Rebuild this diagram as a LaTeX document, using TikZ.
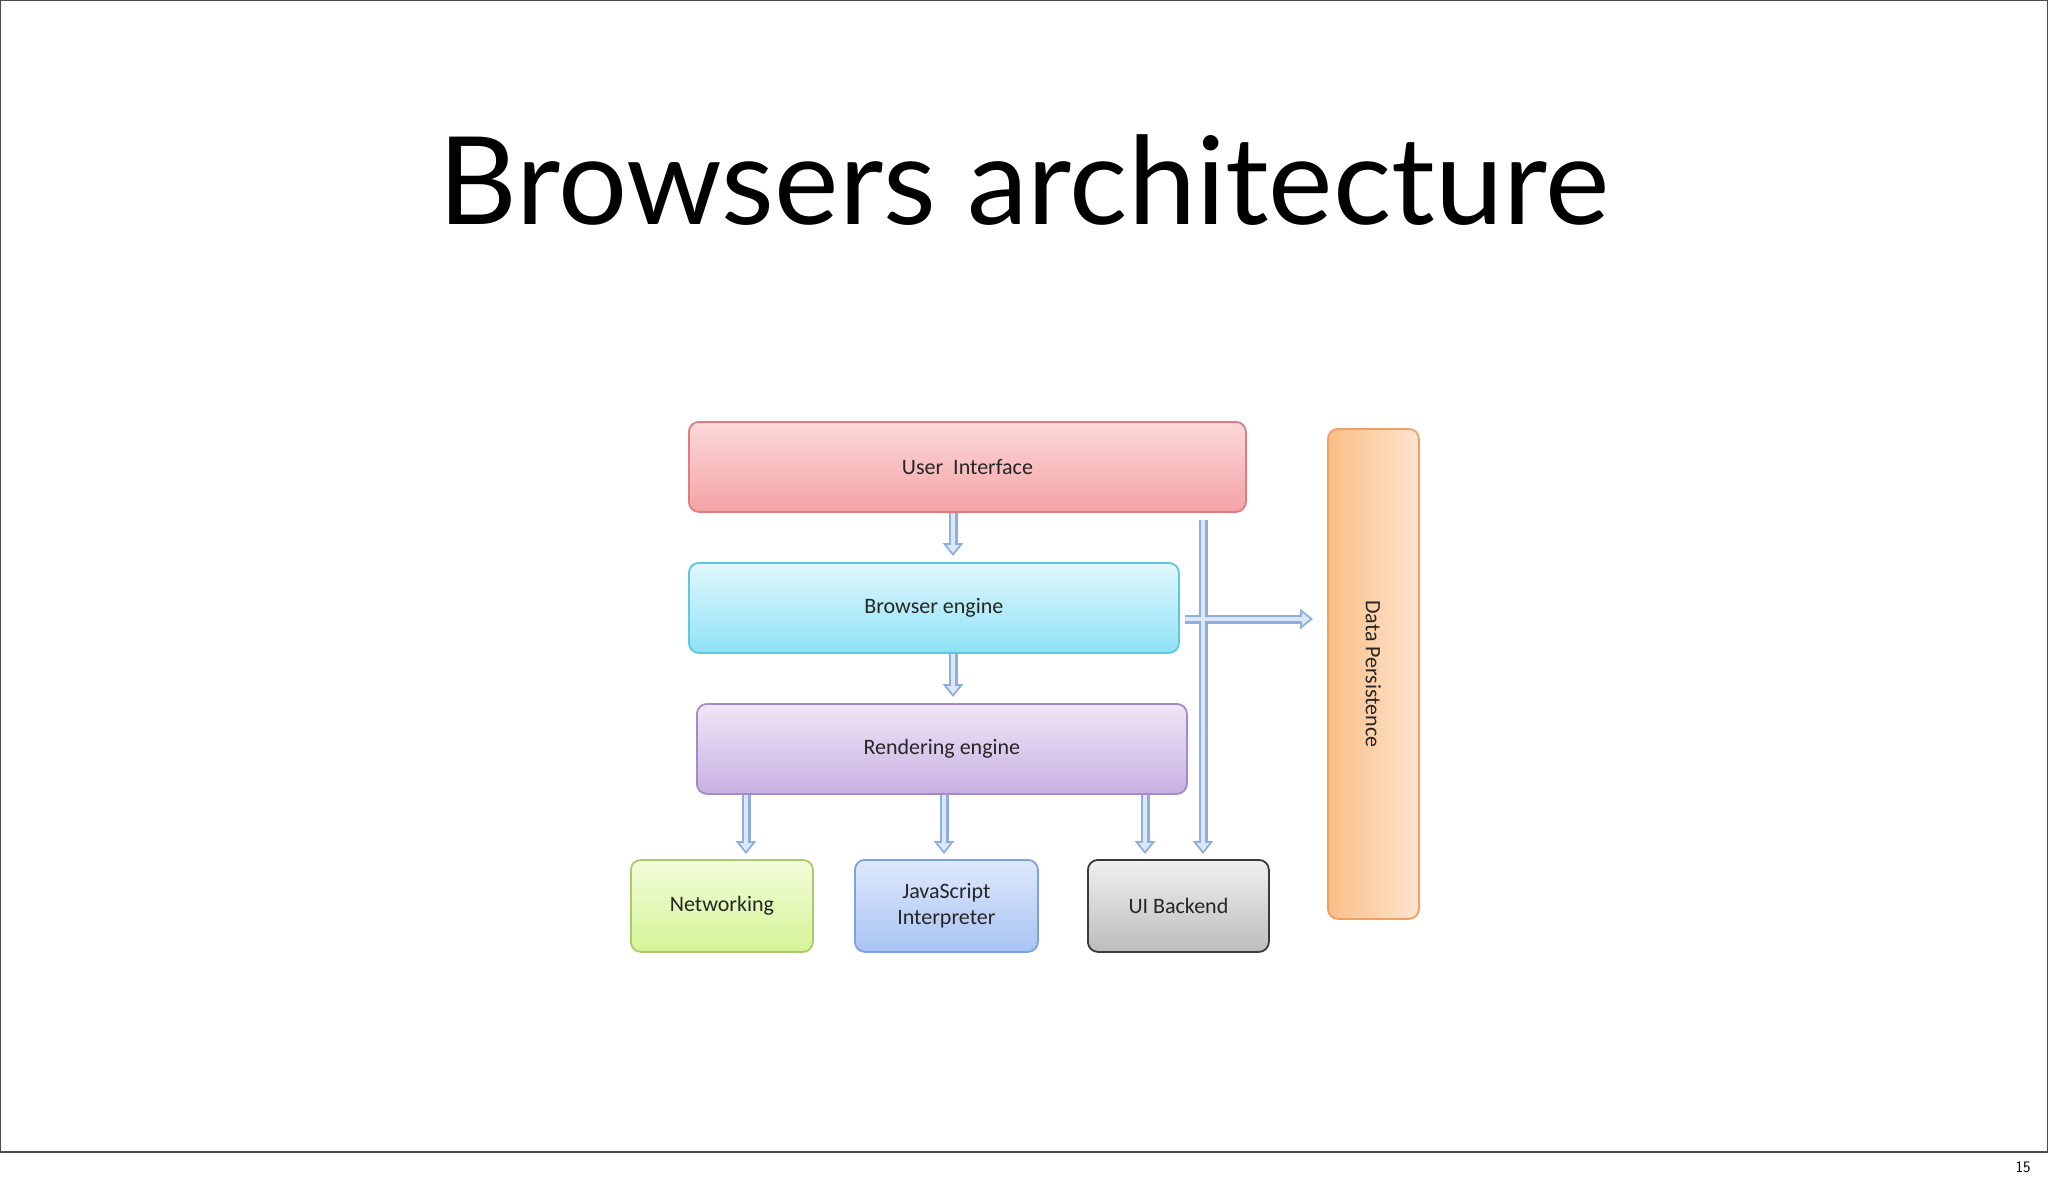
\documentclass[tikz,border=0pt]{standalone}
\usepackage{fontspec}
\setmainfont{Carlito}
\newfontfamily\titlefont{Lato}
\usetikzlibrary{arrows.meta}
\definecolor{uiT}{HTML}{FCD8D8}\definecolor{uiB}{HTML}{F4A3A6}\definecolor{uiD}{HTML}{E07B80}
\definecolor{beT}{HTML}{E2F7FD}\definecolor{beB}{HTML}{8DE2F6}\definecolor{beD}{HTML}{5EC6DD}
\definecolor{reT}{HTML}{F0E6F6}\definecolor{reB}{HTML}{C8B0E2}\definecolor{reD}{HTML}{A48BC8}
\definecolor{nwT}{HTML}{F3FCDB}\definecolor{nwB}{HTML}{D4F496}\definecolor{nwD}{HTML}{A8CC6A}
\definecolor{jsT}{HTML}{DFE9FC}\definecolor{jsB}{HTML}{A8C3F4}\definecolor{jsD}{HTML}{7DA1DC}
\definecolor{ubT}{HTML}{F0F0F0}\definecolor{ubB}{HTML}{BCBCBC}\definecolor{ubD}{HTML}{3A3A3A}
\definecolor{dpL}{HTML}{FBBE86}\definecolor{dpR}{HTML}{FEE5D0}\definecolor{dpD}{HTML}{F0A060}
\definecolor{arD}{HTML}{8FAEE0}\definecolor{arF}{HTML}{DCE8FA}
\tikzset{
  box/.style={rounded corners=10pt, line width=1.8pt, font=\fontsize{22}{26}\selectfont, text=black!85, align=center, anchor=north west, inner sep=0pt},
  flowout/.style={line width=9pt, draw=arD, -{Triangle[length=13pt,width=20pt]}},
  flowin/.style={line width=4.5pt, draw=arF, -{Triangle[length=8pt,width=12pt]}, shorten >=3pt},
}
\newcommand\bx[8]{\node[box, draw=#7, top color=#5, bottom color=#6, minimum width=#3pt, minimum height=#4pt] (#8) at (#1pt,-#2pt) {};}
\begin{document}
\begin{tikzpicture}[x=1pt,y=1pt]
\useasboundingbox (0,0) rectangle (2048,-1184);
\fill[white] (0,0) rectangle (2048,-1184);
\draw[line width=1.2pt, black!70] (0.6,-0.6) rectangle (2047.4,-1152);
\node[font=\fontsize{16}{18}\selectfont\sffamily] (pg) at (2023,-1167) {15};
\node[font=\titlefont\fontsize{122}{130}\selectfont] (title) at (1024,-180) {Browsers architecture};
\bx{688}{421}{557}{90}{uiT}{uiB}{uiD}{ui}
\bx{688}{562}{490}{90}{beT}{beB}{beD}{be}
\bx{696}{703}{490}{90}{reT}{reB}{reD}{re}
\bx{630}{859}{182}{92}{nwT}{nwB}{nwD}{nw}
\bx{854}{859}{183}{92}{jsT}{jsB}{jsD}{js}
\bx{1087}{859}{181}{92}{ubT}{ubB}{ubD}{ub}
\node[box, draw=dpD, left color=dpL, right color=dpR, minimum width=91pt, minimum height=490pt] (dp) at (1327,-428) {};
\node[font=\fontsize{22}{26}\selectfont, text=black!85] at (ui.center) {User\ \ Interface};
\node[font=\fontsize{22}{26}\selectfont, text=black!85] at (be.center) {Browser engine};
\node[font=\fontsize{22}{26}\selectfont, text=black!85] at (re.center) {Rendering engine};
\node[font=\fontsize{22}{26}\selectfont, text=black!85] at (nw.center) {Networking};
\node[font=\fontsize{22}{26}\selectfont, text=black!85, align=center] at (js.center) {JavaScript\\Interpreter};
\node[font=\fontsize{22}{26}\selectfont, text=black!85] at (ub.center) {UI Backend};
\node[font=\fontsize{22}{26}\selectfont, text=black!85, rotate=-90] at (dp.center) {Data Persistence};
\coordinate (a1s) at (953,-513); \coordinate (a1e) at (953,-556);
\coordinate (a2s) at (953,-654); \coordinate (a2e) at (953,-697);
\coordinate (a3s) at (746,-795); \coordinate (a3e) at (746,-854);
\coordinate (a4s) at (944,-795); \coordinate (a4e) at (944,-854);
\coordinate (a5s) at (1145,-795); \coordinate (a5e) at (1145,-854);
\coordinate (vs) at (1203,-520); \coordinate (ve) at (1203,-854);
\coordinate (hs) at (1185,-619); \coordinate (he) at (1313,-619);
\foreach \s/\e in {a1s/a1e,a2s/a2e,a3s/a3e,a4s/a4e,a5s/a5e,vs/ve,hs/he}{
  \draw[flowout] (\s) -- (\e);
}
\foreach \s/\e in {a1s/a1e,a2s/a2e,a3s/a3e,a4s/a4e,a5s/a5e,vs/ve,hs/he}{
  \draw[flowin] ([shift={(0,0)}]\s) -- (\e);
}
\end{tikzpicture}
\end{document}
